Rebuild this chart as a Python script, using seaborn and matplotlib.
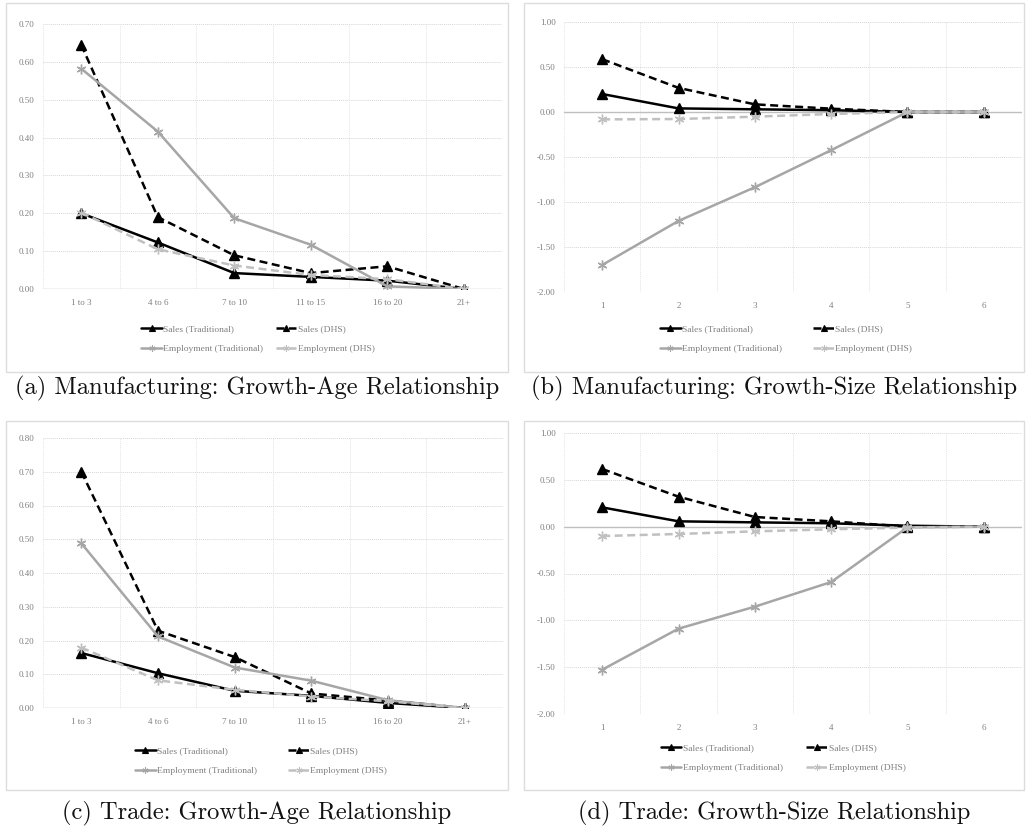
import numpy as np
import pandas as pd
import matplotlib
matplotlib.use("Agg")
import matplotlib.pyplot as plt
from matplotlib.patches import Rectangle
from matplotlib.lines import Line2D
from matplotlib.ticker import FuncFormatter, FixedLocator
import seaborn as sns

sns.set_theme(style="white")
plt.rcParams["font.family"] = ["Liberation Serif", "DejaVu Serif"]
plt.rcParams["axes.unicode_minus"] = False

# ---- data -------------------------------------------------------------
age_labels = ["1 to 3", "4 to 6", "7 to 10", "11 to 15", "16 to 20", "21+"]
size_labels = ["1", "2", "3", "4", "5", "6"]
series_names = ["Sales (Traditional)", "Sales (DHS)",
                "Employment (Traditional)", "Employment (DHS)"]

# Manufacturing, growth by age class
mfg_age_sales_trad = [0.20, 0.123, 0.042, 0.032, 0.022, 0.0]
mfg_age_sales_dhs = [0.645, 0.19, 0.089, 0.042, 0.060, 0.0]
mfg_age_emp_trad = [0.582, 0.416, 0.187, 0.117, 0.007, 0.0]
mfg_age_emp_dhs = [0.202, 0.105, 0.062, 0.037, 0.026, 0.0]

# Manufacturing, growth by size class
mfg_size_sales_trad = [0.20, 0.04, 0.03, 0.02, 0.0, 0.0]
mfg_size_sales_dhs = [0.587, 0.268, 0.085, 0.037, 0.0, 0.0]
mfg_size_emp_trad = [-1.70, -1.21, -0.836, -0.424, 0.0, 0.0]
mfg_size_emp_dhs = [-0.082, -0.078, -0.052, -0.022, 0.0, 0.0]

# Trade, growth by age class
trd_age_sales_trad = [0.163, 0.103, 0.051, 0.036, 0.015, 0.0]
trd_age_sales_dhs = [0.70, 0.229, 0.151, 0.043, 0.022, 0.0]
trd_age_emp_trad = [0.488, 0.212, 0.120, 0.081, 0.023, 0.0]
trd_age_emp_dhs = [0.179, 0.082, 0.054, 0.034, 0.020, 0.0]

# Trade, growth by size class
trd_size_sales_trad = [0.206, 0.057, 0.046, 0.036, 0.010, 0.0]
trd_size_sales_dhs = [0.616, 0.320, 0.103, 0.057, 0.0, 0.0]
trd_size_emp_trad = [-1.527, -1.089, -0.854, -0.591, -0.007, 0.0]
trd_size_emp_dhs = [-0.100, -0.078, -0.050, -0.028, -0.010, 0.0]

captions = ["(a) Manufacturing: Growth-Age Relationship",
            "(b) Manufacturing: Growth-Size Relationship",
            "(c) Trade: Growth-Age Relationship",
            "(d) Trade: Growth-Size Relationship"]

# ---- styling ------------------------------------------------------------
palette = {"Sales (Traditional)": "#000000", "Sales (DHS)": "#000000",
           "Employment (Traditional)": "#a6a6a6", "Employment (DHS)": "#c0c0c0"}
dashes = {"Sales (Traditional)": "", "Sales (DHS)": (3.2, 1.8),
          "Employment (Traditional)": "", "Employment (DHS)": (3.2, 1.8)}
markers = {"Sales (Traditional)": "^", "Sales (DHS)": "^",
           "Employment (Traditional)": (6, 2, 0), "Employment (DHS)": (6, 2, 0)}
TEXT_GREY = "#808080"
GRID_GREY = "#d6d6d6"

W, H = 1026, 836
fig = plt.figure(figsize=(W / 100, H / 100), dpi=100)


def px_rect(l, t, r, b):
    return [l / W, 1 - b / H, (r - l) / W, (b - t) / H]


def long_frame(labels, values):
    rows = []
    for name, vals in zip(series_names, values):
        for i, v in enumerate(vals):
            rows.append({"pos": i, "label": labels[i], "series": name, "value": v})
    return pd.DataFrame(rows)


panels = [
    dict(labels=age_labels,
         values=[mfg_age_sales_trad, mfg_age_sales_dhs, mfg_age_emp_trad, mfg_age_emp_dhs],
         ylim=(0, 0.70), step=0.10, frame=(6, 3, 508, 372), plot=(43, 24, 502, 289),
         legend_center=(258, 339), colspace=1.3, caption_y=388),
    dict(labels=size_labels,
         values=[mfg_size_sales_trad, mfg_size_sales_dhs, mfg_size_emp_trad, mfg_size_emp_dhs],
         ylim=(-2.0, 1.0), step=0.5, frame=(524, 3, 1024, 372), plot=(564, 22, 1022, 292),
         legend_center=(786, 339), colspace=3.3, caption_y=388),
    dict(labels=age_labels,
         values=[trd_age_sales_trad, trd_age_sales_dhs, trd_age_emp_trad, trd_age_emp_dhs],
         ylim=(0, 0.80), step=0.10, frame=(6, 421, 508, 790), plot=(43, 438, 503, 708),
         legend_center=(261, 761), colspace=3.3, caption_y=813),
    dict(labels=size_labels,
         values=[trd_size_sales_trad, trd_size_sales_dhs, trd_size_emp_trad, trd_size_emp_dhs],
         ylim=(-2.0, 1.0), step=0.5, frame=(524, 421, 1024, 790), plot=(564, 433, 1022, 714),
         legend_center=(783, 758), colspace=2.5, caption_y=813),
]

# legend fills column by column: put the two sales entries on the first row
legend_order = ["Sales (Traditional)", "Employment (Traditional)",
                "Sales (DHS)", "Employment (DHS)"]

for p, cap in zip(panels, captions):
    # light border around each chart
    fl, ft, fr, fb = p["frame"]
    fig.patches.append(Rectangle((fl / W, 1 - fb / H), (fr - fl) / W, (fb - ft) / H,
                                 transform=fig.transFigure, fill=False,
                                 edgecolor="#dcdcdc", linewidth=1.0, zorder=0))

    ax = fig.add_axes(px_rect(*p["plot"]))
    ax.set_facecolor("none")
    df = long_frame(p["labels"], p["values"])

    # sales (filled triangles) and employment (asterisks) drawn as two groups
    series_lines = {}
    for group in (series_names[:2], series_names[2:]):
        before = len(ax.lines)
        sub = df[df["series"].isin(group)]
        sns.lineplot(data=sub, x="pos", y="value", hue="series", style="series",
                     hue_order=group, style_order=group,
                     palette={g: palette[g] for g in group},
                     dashes={g: dashes[g] for g in group},
                     markers={g: markers[g] for g in group},
                     linewidth=1.8, markersize=7, ax=ax, legend=False, zorder=3)
        for name, line in zip(group, ax.lines[before:]):
            series_lines[name] = line

    for line in series_lines.values():
        line.set_markeredgecolor(line.get_color())
        line.set_markerfacecolor(line.get_color())
        line.set_markeredgewidth(1.0)

    lo, hi = p["ylim"]
    ax.set_xlim(-0.5, 5.5)
    ax.set_ylim(lo, hi)
    yt = np.round(np.arange(lo, hi + 1e-9, p["step"]), 2)
    ax.yaxis.set_major_locator(FixedLocator(yt))
    ax.yaxis.set_major_formatter(FuncFormatter(lambda v, _: f"{v:.2f}"))
    ax.set_xticks(range(6))
    ax.set_xticklabels(p["labels"])
    ax.set_xlabel("")
    ax.set_ylabel("")
    for s in ax.spines.values():
        s.set_visible(False)
    ax.tick_params(axis="both", length=0, labelsize=6.5, colors=TEXT_GREY)
    ax.tick_params(axis="y", pad=6)
    ax.tick_params(axis="x", pad=7)

    # grid: dotted horizontals, faint verticals between categories
    for yv in yt:
        if abs(yv) > 1e-9:
            ax.axhline(yv, color=GRID_GREY, lw=0.7, ls=(0, (1, 1)), zorder=1)
    for xv in np.arange(-0.5, 5.6, 1.0):
        ax.axvline(xv, color="#e4e4e4", lw=0.7, ls=(0, (1, 1)), zorder=1)
    ax.axhline(0, color="#bfbfbf", lw=1.0, zorder=2)

    handles = []
    for name in legend_order:
        src = series_lines[name]
        handles.append(Line2D([], [], color=src.get_color(), lw=src.get_linewidth(),
                              ls=src.get_linestyle(), dashes=dashes[name] or (None, None),
                              marker=src.get_marker(), markersize=4.5,
                              markeredgecolor=src.get_color(),
                              markerfacecolor=src.get_color(), markeredgewidth=0.8))
    lx, ly = p["legend_center"]
    fig.legend(handles, legend_order, loc="center", bbox_to_anchor=(lx / W, 1 - ly / H),
               ncol=2, frameon=False, fontsize=6.8, labelcolor=TEXT_GREY,
               handlelength=2.2, handletextpad=0.15, columnspacing=p["colspace"],
               labelspacing=1.2, borderpad=0)

    fig.text(((fl + fr) / 2) / W, 1 - p["caption_y"] / H, cap, family="cmr10",
             fontsize=17.6, ha="center", va="center", color="#111111")

fig.savefig("out.png", dpi=100, facecolor="white")
